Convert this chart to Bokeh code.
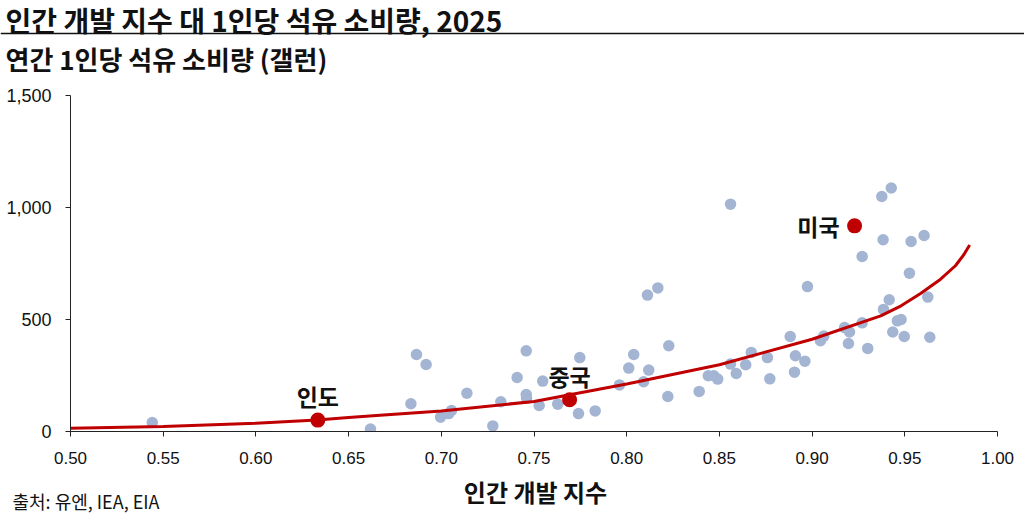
from bokeh.plotting import figure
from bokeh.layouts import column
from bokeh.models import NumeralTickFormatter, FixedTicker, Range1d
from bokeh.core.properties import value
from bokeh.embed import file_html
from bokeh.resources import INLINE

# Human Development Index vs per-capita oil consumption (gallons), 2025
hdi = [0.5441, 0.6618, 0.6866, 0.6918, 0.6836, 0.6996, 0.7040, 0.7055, 0.7138, 0.7278,
       0.7321, 0.7409, 0.7458, 0.7458, 0.7460, 0.7528, 0.7547, 0.7628, 0.7747, 0.7740,
       0.7830, 0.7961, 0.8011, 0.8038, 0.8091, 0.8119, 0.8112, 0.8168, 0.8222, 0.8227,
       0.8560, 0.9376, 0.9427, 0.8975, 0.9175, 0.9202, 0.9196, 0.9300, 0.9063, 0.9045,
       0.8882, 0.8910, 0.8961, 0.8905, 0.8759, 0.8772, 0.8672, 0.8642, 0.8591, 0.8560,
       0.8470, 0.8440, 0.8491, 0.8391, 0.9383, 0.9534, 0.9604, 0.9270, 0.9525, 0.9416,
       0.9385, 0.9624, 0.9270, 0.9480, 0.9460, 0.9435, 0.9497, 0.9635]
oil = [40, 11, 344, 299, 124, 64, 80, 94, 171, 25,
       133, 241, 360, 165, 148, 116, 225, 122, 330, 80,
       92, 208, 283, 344, 222, 274, 609, 641, 156, 383,
       1015, 1049, 1087, 647, 464, 444, 393, 371, 426, 405,
       424, 338, 314, 265, 330, 235, 353, 298, 259, 301,
       249, 249, 234, 179, 856, 848, 875, 781, 707, 588,
       545, 600, 485, 500, 494, 444, 424, 421]

# Highlighted countries
hl_names = ["인도", "중국", "미국"]
hl_hdi = [0.6334, 0.7692, 0.9229]
hl_oil = [51, 142, 918]

# Trend curve
trend_hdi = [0.500, 0.550, 0.600, 0.633, 0.650, 0.667, 0.700, 0.750, 0.800, 0.850,
             0.900, 0.937, 0.948, 0.9585, 0.9693, 0.9773, 0.9818, 0.985]
trend_oil = [15, 22, 37, 51, 62, 73, 92, 134, 212, 298,
             412, 516, 561, 616, 680, 740, 789, 833]

x_ticks = [0.50, 0.55, 0.60, 0.65, 0.70, 0.75, 0.80, 0.85, 0.90, 0.95, 1.00]
y_ticks = [0, 500, 1000, 1500]

title_text = "인간 개발 지수 대 1인당 석유 소비량, 2025"
subtitle_text = "연간 1인당 석유 소비량 (갤런)"
xlabel_text = "인간 개발 지수"
source_text = "출처: 유엔, IEA, EIA"

KFONT = "Noto Sans CJK KR"
NFONT = "Liberation Sans"
INK = "#111111"
W = 1024
TOP_H, MAIN_H, BOT_H = 84, 385, 45


def strip(h):
    f = figure(width=W, height=h, output_backend="svg", toolbar_location=None,
               x_range=Range1d(0, W), y_range=Range1d(h, 0),
               x_axis_type=None, y_axis_type=None, frame_align=False,
               min_border=0, min_border_left=0, min_border_right=0,
               min_border_top=0, min_border_bottom=0)
    f.outline_line_color = None
    f.grid.visible = False
    return f


# ---- header strip: title, rule, subtitle
top = strip(TOP_H)
top.text(x=[5], y=[19], text=[title_text], text_baseline="middle",
         text_font=value(KFONT), text_font_style="bold", text_font_size="28px", text_color=INK)
top.line(x=[0, W], y=[33, 33], line_color=INK, line_width=1.6)
top.text(x=[5], y=[58], text=[subtitle_text], text_baseline="middle",
         text_font=value(KFONT), text_font_style="bold", text_font_size="26px", text_color=INK)

# ---- main chart
p = figure(width=W, height=MAIN_H, output_backend="svg", toolbar_location=None,
           x_range=Range1d(0.5, 1.0), y_range=Range1d(0, 1500), frame_align=False,
           min_border_left=70, min_border_right=27, min_border_top=11, min_border_bottom=38)
p.outline_line_color = None
p.grid.grid_line_color = None

p.xaxis.ticker = FixedTicker(ticks=x_ticks)
p.yaxis.ticker = FixedTicker(ticks=y_ticks)
p.xaxis.formatter = NumeralTickFormatter(format="0.00")
p.yaxis.formatter = NumeralTickFormatter(format="0,0")
for ax in (p.xaxis, p.yaxis):
    ax.axis_line_color = "#222222"
    ax.major_tick_line_color = "#222222"
    ax.minor_tick_line_color = None
    ax.major_tick_out = 5
    ax.major_tick_in = 0
    ax.major_label_text_font = NFONT
    ax.major_label_text_color = INK
p.xaxis.major_label_text_font_size = "17px"
p.yaxis.major_label_text_font_size = "18px"
p.xaxis.major_label_standoff = 15
p.yaxis.major_label_standoff = 14

p.scatter(hdi, oil, size=11.5, color="#a4b5d3", line_color=None)
p.line(trend_hdi, trend_oil, line_color="#c00000", line_width=3)
p.scatter(hl_hdi, hl_oil, size=15, color="#c00000", line_color=None)

p.text(x=hl_hdi[:2], y=hl_oil[:2], text=hl_names[:2], text_align="center", text_baseline="middle",
       y_offset=-24, text_font=value(KFONT), text_font_style="bold", text_font_size="23px",
       text_color=INK)
p.text(x=hl_hdi[2:], y=hl_oil[2:], text=hl_names[2:], text_align="right", text_baseline="middle",
       x_offset=-15, text_font=value(KFONT), text_font_style="bold", text_font_size="23px",
       text_color=INK)

# ---- footer strip: x-axis title and source
bot = strip(BOT_H)
bot.text(x=[535], y=[22], text=[xlabel_text], text_align="center", text_baseline="middle",
         text_font=value(KFONT), text_font_style="bold", text_font_size="24px", text_color=INK)
bot.text(x=[12], y=[31], text=[source_text], text_baseline="middle",
         text_font=value(KFONT), text_font_size="18px", text_color=INK)

layout = column(top, p, bot, spacing=0)
open("out.html", "w").write(file_html(layout, INLINE))
